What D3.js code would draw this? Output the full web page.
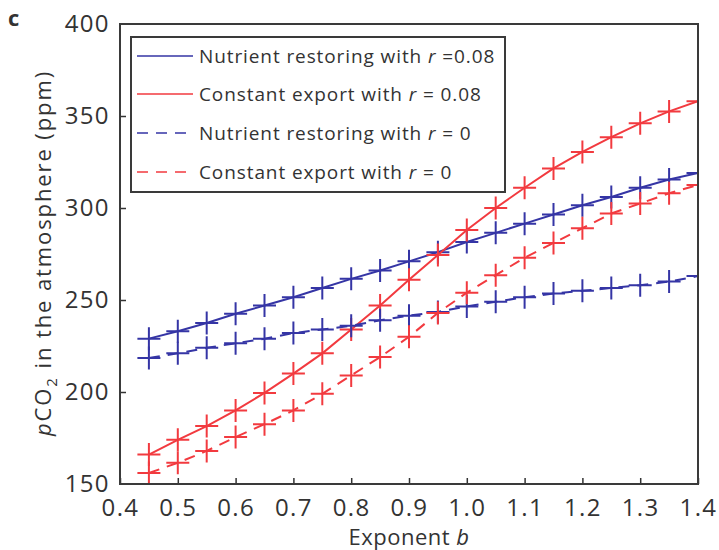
<!DOCTYPE html>
<html>
<head>
<meta charset="utf-8">
<script src="https://cdn.jsdelivr.net/npm/d3@7"></script>
<style>
  body { margin: 0; background: #fff; }
  svg text { font-family: "Open Sans", "Noto Sans", sans-serif; fill: #333; }
</style>
</head>
<body>
<script>
// exponent b values (x)
const exponents = [0.45, 0.5, 0.55, 0.6, 0.65, 0.7, 0.75, 0.8, 0.85, 0.9, 0.95, 1.0, 1.05, 1.1, 1.15, 1.2, 1.25, 1.3, 1.35, 1.4]
// pCO2 (ppm) for each run
const nutrientR008 = [229, 233, 237.5, 242.5, 247, 251.5, 256.5, 261.5, 266, 271, 276, 281.5, 286.5, 291.5, 296.5, 301.5, 306, 311, 315.5, 319]
const constantR008 = [166, 174, 181.5, 190, 199.5, 210, 221, 234, 247, 261, 274.5, 288, 300, 311, 321.5, 330.5, 338.5, 346, 352.5, 358]
const nutrientR0 = [218.5, 221, 224, 226.5, 229, 232, 234, 236, 239, 241.5, 243.5, 246.5, 249, 251.5, 253.5, 255, 256.5, 258, 260, 263]
const constantR0 = [156, 161.5, 168, 175.5, 182.5, 190, 199, 209, 219, 230, 243, 254, 263.5, 273, 281, 289, 297, 302.5, 308, 312.5]
const xTicks = [0.4, 0.5, 0.6, 0.7, 0.8, 0.9, 1.0, 1.1, 1.2, 1.3, 1.4]
const yTicks = [150, 200, 250, 300, 350, 400]

const blue = '#3535a5'
const red = '#f23a3f'

const series = [
    { label: 'Nutrient restoring with ', tail: ' =0.08', values: nutrientR008, color: blue, dash: null },
    { label: 'Constant export with ', tail: ' = 0.08', values: constantR008, color: red, dash: null },
    { label: 'Nutrient restoring with ', tail: ' = 0', values: nutrientR0, color: blue, dash: '11,8' },
    { label: 'Constant export with ', tail: ' = 0', values: constantR0, color: red, dash: '11,8' }
]

const width = 719, height = 550
const plot = { left: 120, right: 698, top: 24, bottom: 484 }

const x = d3.scaleLinear().domain([0.4, 1.4]).range([plot.left, plot.right])
const y = d3.scaleLinear().domain([150, 400]).range([plot.bottom, plot.top])

const svg = d3.select('body').append('svg')
    .attr('width', width)
    .attr('height', height)

svg.append('defs').append('clipPath').attr('id', 'clip')
    .append('rect')
    .attr('x', plot.left).attr('y', plot.top)
    .attr('width', plot.right - plot.left).attr('height', plot.bottom - plot.top)

// axes with inward ticks
const xAxis = svg.append('g')
    .attr('transform', `translate(0,${plot.bottom})`)
    .call(d3.axisBottom(x).tickValues(xTicks).tickSizeInner(-6).tickSizeOuter(0).tickPadding(12).tickFormat(d3.format('.1f')))
const yAxis = svg.append('g')
    .attr('transform', `translate(${plot.left},0)`)
    .call(d3.axisLeft(y).tickValues(yTicks).tickSizeInner(-6).tickSizeOuter(0).tickPadding(10))

for (const ax of [xAxis, yAxis]) {
    ax.select('.domain').remove()
    ax.selectAll('.tick line').attr('stroke', '#333').attr('stroke-width', 1.5)
    ax.selectAll('.tick text').style('font-size', '24px').style('letter-spacing', '1.4px').attr('fill', '#333')
}
xAxis.selectAll('.tick text').attr('dy', '0.85em')
yAxis.selectAll('.tick').filter(d => d === 400 || d === 150).select('line').remove()

// data
const lines = svg.append('g').attr('clip-path', 'url(#clip)')
const lineGen = d3.line().x((d, i) => x(exponents[i])).y(d => y(d))
const arm = 11.5

series.forEach(s => {
    lines.append('path')
        .attr('d', lineGen(s.values))
        .attr('fill', 'none')
        .attr('stroke', s.color)
        .attr('stroke-width', 2)
        .attr('stroke-dasharray', s.dash)

    lines.selectAll(null)
        .data(s.values)
        .enter()
        .append('path')
        .attr('d', (d, i) => {
            const cx = x(exponents[i]), cy = y(d)
            return `M${cx - arm},${cy}H${cx + arm}M${cx},${cy - arm}V${cy + arm}`
        })
        .attr('stroke', s.color)
        .attr('stroke-width', 2)
})

// frame
svg.append('rect')
    .attr('x', plot.left).attr('y', plot.top)
    .attr('width', plot.right - plot.left).attr('height', plot.bottom - plot.top)
    .attr('fill', 'none').attr('stroke', '#3a3a3a').attr('stroke-width', 2)

// legend box sits above the data lines
svg.append('rect')
    .attr('x', 131).attr('y', 37).attr('width', 374).attr('height', 155)
    .attr('fill', '#fff').attr('stroke', '#3a3a3a').attr('stroke-width', 2)
const legend = svg.append('g')
const rowY = [56, 94, 133, 172]
series.forEach((s, i) => {
    legend.append('line')
        .attr('x1', 137).attr('x2', 193).attr('y1', rowY[i]).attr('y2', rowY[i])
        .attr('stroke', s.color).attr('stroke-width', 1.6)
        .attr('stroke-dasharray', s.dash ? '11,8' : null)
    const t = legend.append('text')
        .attr('x', 199).attr('y', rowY[i]).attr('dy', '0.36em')
        .style('font-size', '19px')
        .style('letter-spacing', '0.9px')
    t.append('tspan').text(s.label)
    t.append('tspan').attr('font-style', 'italic').text('r')
    t.append('tspan').text(s.tail)
})

// axis titles
const xt = svg.append('text')
    .attr('x', 409).attr('y', 545)
    .attr('text-anchor', 'middle')
    .style('font-size', '22px')
    .style('letter-spacing', '0.5px')
xt.append('tspan').text('Exponent ')
xt.append('tspan').attr('font-style', 'italic').text('b')

const yt = svg.append('text')
    .attr('transform', 'translate(51,253) rotate(-90)')
    .attr('text-anchor', 'middle')
    .style('font-size', '22px')
    .style('letter-spacing', '1.9px')
yt.append('tspan').attr('font-style', 'italic').text('p')
yt.append('tspan').text('CO')
yt.append('tspan').attr('dy', 6).style('font-size', '15px').text('2')
yt.append('tspan').attr('dy', -6).text(' in the atmosphere (ppm)')

svg.append('text')
    .attr('x', 8).attr('y', 26)
    .style('font-size', '22px').style('font-weight', 'bold')
    .attr('fill', '#222')
    .text('c')
</script>
</body>
</html>
